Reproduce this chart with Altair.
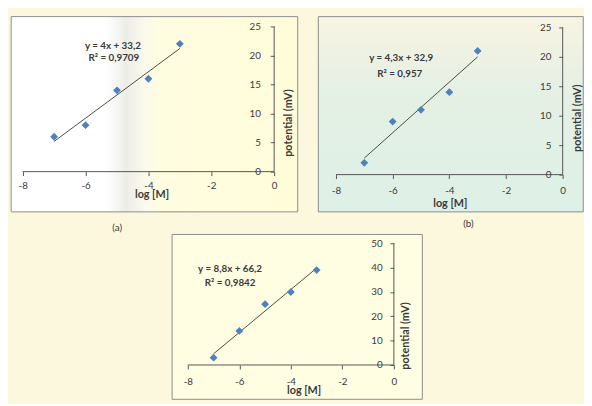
import altair as alt
import pandas as pd

# ---- data ----
log_m = [-7, -6, -5, -4, -3]
pot_a = [6, 8, 14, 16, 22]
pot_b = [2, 9, 11, 14, 21]
pot_c = [3, 14, 25, 30, 39]
eq_a = ["y = 4x + 33,2", "R² = 0,9709"]
eq_b = ["y = 4,3x + 32,9", "R² = 0,957"]
eq_c = ["y = 8,8x + 66,2", "R² = 0,9842"]
x_ticks = [-8, -6, -4, -2, 0]
y_ticks_ab = [0, 5, 10, 15, 20, 25]
y_ticks_c = [0, 10, 20, 30, 40, 50]
captions = ["(a)", "(b)", "(c)"]
x_title = "log [M]"
y_title = "potential (mV)"

FONT = "Lato"
BLUE = "#4F81BD"
AXC = "#555555"
TXT = "#3a3a3a"


def panel(vals, eq, yticks, cfg):
    df = pd.DataFrame({"x": log_m, "y": vals})
    one = pd.DataFrame({"k": [0]})
    xdom, ydom = cfg["xdom"], cfg["ydom"]
    xs = alt.Scale(domain=xdom, nice=False, zero=False)
    ys = alt.Scale(domain=ydom, nice=False, zero=False)
    xaxis = alt.Axis(
        values=x_ticks, labelExpr="'' + datum.value", offset=cfg["xoff"],
        title=x_title, titleX=cfg["xtx"], titleY=cfg["xty"], titleBaseline="middle",
        titleFont=FONT, titleFontSize=11, titleFontWeight="bold", titleColor=TXT,
        labelFont=FONT, labelFontSize=10, labelColor=TXT, labelPadding=cfg["xlp"],
        tickSize=4, tickColor=AXC, domain=False, grid=False, zindex=1,
        labelFlush=False, labelOverlap=False,
    )
    yaxis = alt.Axis(
        orient="left", values=yticks, offset=cfg["yoff"],
        title=y_title, titleX=cfg["ytx"], titleY=cfg["yty"], titleAngle=-90,
        titleBaseline="middle", titleAlign="center",
        titleFont=FONT, titleFontSize=11, titleFontWeight="bold", titleColor=TXT,
        labelFont=FONT, labelFontSize=10, labelColor=TXT, labelPadding=cfg["ylp"],
        tickSize=4, tickColor=AXC, domain=False, grid=False, zindex=1,
        labelFlush=False, labelOverlap=False,
    )
    X = alt.X("x:Q", scale=xs, axis=xaxis)
    Y = alt.Y("y:Q", scale=ys, axis=yaxis)

    bg = alt.Chart(one).mark_rect(
        fill=cfg["fill"], stroke="#8c8c8c", strokeWidth=1
    ).encode(
        x=alt.X(datum=xdom[0], scale=xs, axis=xaxis),
        x2=alt.datum(xdom[1]),
        y=alt.Y(datum=ydom[0], scale=ys, axis=yaxis),
        y2=alt.datum(ydom[1]),
    )
    # axis lines running only over the tick range, crossing at (0, 0)
    xline = alt.Chart(one).mark_rule(color=AXC, strokeWidth=1).encode(
        x=alt.X(datum=x_ticks[0], scale=xs, axis=xaxis),
        x2=alt.datum(x_ticks[-1]),
        y=alt.Y(datum=yticks[0], scale=ys, axis=yaxis),
    )
    yline = alt.Chart(one).mark_rule(color=AXC, strokeWidth=1).encode(
        x=alt.X(datum=x_ticks[-1], scale=xs, axis=xaxis),
        y=alt.Y(datum=yticks[0], scale=ys, axis=yaxis),
        y2=alt.datum(yticks[-1]),
    )
    line = alt.Chart(df).transform_regression("x", "y").mark_line(
        color="#4a4a40", strokeWidth=1
    ).encode(x=X, y=Y)
    pts = alt.Chart(df).mark_point(
        shape="diamond", filled=True, size=64, color=BLUE, opacity=1
    ).encode(x=X, y=Y)
    layers = [bg, xline, yline, line, pts]
    for txt, (ex, ey) in zip(eq, cfg["eqpos"]):
        layers.append(
            alt.Chart(pd.DataFrame({"t": [txt]})).mark_text(
                font=FONT, fontSize=10, fontWeight="bold", color=TXT
            ).encode(x=alt.X(datum=ex, scale=xs, axis=xaxis),
                     y=alt.Y(datum=ey, scale=ys, axis=yaxis), text="t:N")
        )
    props = dict(width=cfg["w"], height=cfg["h"])
    if cfg.get("cap"):
        props["title"] = alt.TitleParams(
            cfg["cap"], orient="bottom", anchor="middle", dx=cfg["capdx"],
            offset=cfg["capoff"], font=FONT, fontSize=10, fontWeight="normal",
            color=TXT,
        )
    return alt.layer(*layers).properties(**props)


grad_a = alt.Gradient(
    gradient="linear", x1=0, x2=1, y1=0, y2=0,
    stops=[
        alt.GradientStop(offset=0, color="#FFFFFF"),
        alt.GradientStop(offset=0.33, color="#FFFFFF"),
        alt.GradientStop(offset=0.40, color="#EDEDE8"),
        alt.GradientStop(offset=0.47, color="#FBFAEC"),
        alt.GradientStop(offset=0.52, color="#FFFDE0"),
        alt.GradientStop(offset=1, color="#FFFCDA"),
    ],
)
grad_b = alt.Gradient(
    gradient="linear", x1=0, x2=0, y1=0, y2=1,
    stops=[
        alt.GradientStop(offset=0, color="#F7F4E2"),
        alt.GradientStop(offset=0.35, color="#E6F0E4"),
        alt.GradientStop(offset=1, color="#DDF0E7"),
    ],
)

cfg_a = dict(w=292, h=199, xdom=[-8.366, 0.75], ydom=[-6.93, 26.69],
             xoff=-41, yoff=-268, xtx=143, xty=23, xlp=5, ylp=10, ytx=15, yty=108,
             eqpos=[(-5.13, 21.6), (-5.1, 19.6)], fill=grad_a,
             cap=captions[0], capdx=-38, capoff=11)
cfg_b = dict(w=270, h=199, xdom=[-8.623, 0.727], ydom=[-6.33, 26.83],
             xoff=-38, yoff=-249, xtx=134, xty=30, xlp=7, ylp=8, ytx=15, yty=103,
             eqpos=[(-5.70, 19.8), (-5.75, 17.0)], fill=grad_b,
             cap=captions[1], capdx=18, capoff=7)
cfg_c = dict(w=255, h=168, xdom=[-8.61, 1.105], ydom=[-14.11, 53.63],
             xoff=-35, yoff=-226, xtx=134, xty=26, xlp=8, ylp=8, ytx=12, yty=103,
             eqpos=[(-6.36, 39.5), (-6.36, 33.5)], fill="#FFFDE2")

pa = panel(pot_a, eq_a, y_ticks_ab, cfg_a)
pb = panel(pot_b, eq_b, y_ticks_ab, cfg_b)
pc = panel(pot_c, eq_c, y_ticks_c, cfg_c)

top = alt.hconcat(pa, pb, spacing=19)
chart = alt.vconcat(top, pc, spacing=0, center=True).properties(
    padding={"left": 2, "top": 4, "right": 0, "bottom": 0},
    background="#FBF8DE",
).configure_view(stroke=None)

chart.save("out.html", embed_options={"renderer": "svg", "actions": False})
